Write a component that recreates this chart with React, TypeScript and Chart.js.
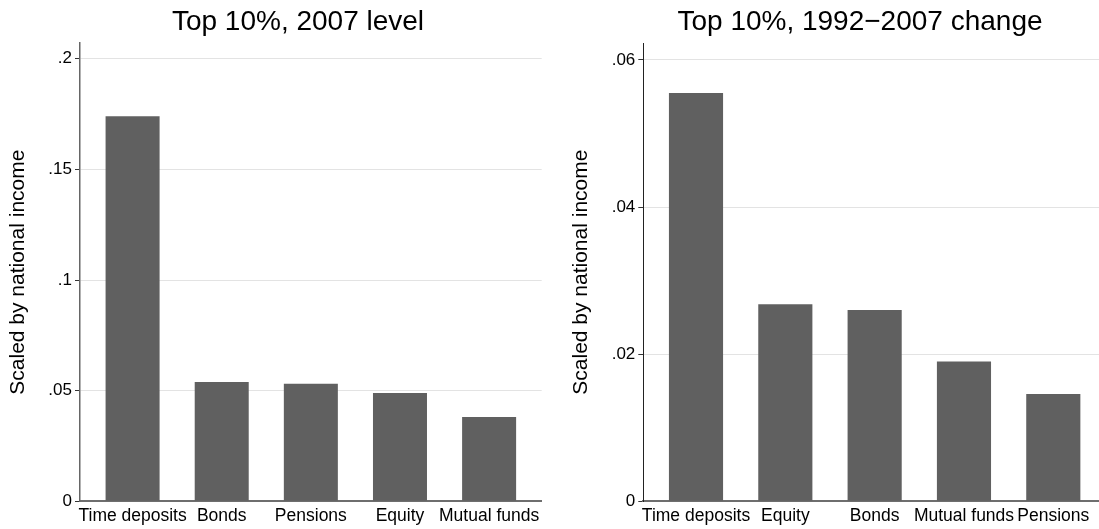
import React, { useEffect, useRef } from "react";
import { Chart, registerables } from "chart.js";

Chart.register(...registerables);

// ---------- data ----------
const leftTitle = "Top 10%, 2007 level";
const leftCategories = ["Time deposits", "Bonds", "Pensions", "Equity", "Mutual funds"];
const leftValues = [0.174, 0.0539, 0.0531, 0.0489, 0.0381];
const leftTickValues = [0, 0.05, 0.1, 0.15, 0.2];
const leftTickLabels = ["0", ".05", ".1", ".15", ".2"];

const rightTitle = "Top 10%, 1992\u22122007 change";
const rightCategories = ["Time deposits", "Equity", "Bonds", "Mutual funds", "Pensions"];
const rightValues = [0.0555, 0.0268, 0.026, 0.019, 0.0146];
const rightTickValues = [0, 0.02, 0.04, 0.06];
const rightTickLabels = ["0", ".02", ".04", ".06"];

const yAxisTitle = "Scaled by national income";

// ---------- style ----------
const FONT = "'Liberation Sans', Arial, Helvetica, sans-serif";
const BAR_COLOR = "#606060";
const GRID_COLOR = "#e3e3e3";

// Draws the panel title centred on a given x (Stata centres it on the whole graph region)
const panelTitlePlugin = {
  id: "panelTitle",
  afterDraw(chart: any, _args: any, opts: any) {
    const ctx = chart.ctx;
    ctx.save();
    ctx.font = `normal ${opts.size}px ${FONT}`;
    ctx.fillStyle = "#000";
    ctx.textAlign = "center";
    ctx.textBaseline = "middle";
    ctx.fillText(opts.text, opts.x, opts.y);
    ctx.restore();
  },
};

type PanelProps = {
  title: string;
  titleX: number;
  categories: string[];
  values: number[];
  tickValues: number[];
  tickLabels: string[];
  yMax: number;
  left: number;
  width: number;
  yAxisWidth: number;
  yTitleOffset: number;
  padRight: number;
  yBorderColor: string;
  yBorderWidth: number;
};

function Panel(p: PanelProps) {
  const ref = useRef<HTMLCanvasElement | null>(null);
  useEffect(() => {
    if (!ref.current) return;
    const chart = new Chart(ref.current, {
      type: "bar",
      data: {
        datasets: [
          {
            data: p.values.map((v, i) => ({ x: i, y: v })),
            backgroundColor: BAR_COLOR,
            borderWidth: 0,
            categoryPercentage: 1,
            barPercentage: 0.606,
          },
        ],
      },
      plugins: [panelTitlePlugin],
      options: {
        animation: false,
        responsive: false,
        devicePixelRatio: 1,
        layout: { padding: { left: 0, right: p.padRight, top: 43, bottom: 0 } },
        plugins: {
          legend: { display: false },
          tooltip: { enabled: false },
          title: { display: false },
          panelTitle: { text: p.title, x: p.titleX, y: 22, size: 28 },
        },
        scales: {
          x: {
            type: "linear",
            offset: false,
            grace: 0,
            min: -0.59,
            max: p.categories.length - 1 + 0.59,
            afterBuildTicks: (s: any) => {
              s.ticks = p.categories.map((_, i) => ({ value: i }));
            },
            afterFit: (s: any) => {
              s.height = 27.7;
            },
            ticks: {
              autoSkip: false,
              maxRotation: 0,
              minRotation: 0,
              padding: 4,
              color: "#000",
              font: { family: FONT, size: 17.5 },
              callback: (_v: any, i: number) => p.categories[i],
            },
            grid: { display: false, drawTicks: false, offset: false },
            border: { display: true, color: "#6e6e6e", width: 2 },
          },
          y: {
            min: 0,
            max: p.yMax,
            afterBuildTicks: (s: any) => {
              s.ticks = p.tickValues.map((v) => ({ value: v }));
            },
            afterFit: (s: any) => {
              s.width = p.yAxisWidth;
            },
            ticks: {
              padding: 3,
              color: "#000",
              font: { family: FONT, size: 17 },
              callback: (_v: any, i: number) => p.tickLabels[i],
            },
            grid: {
              color: GRID_COLOR,
              lineWidth: 1,
              drawTicks: true,
              tickLength: 5,
              tickColor: "#333",
            },
            border: { display: true, color: p.yBorderColor, width: p.yBorderWidth },
            title: {
              display: true,
              text: yAxisTitle,
              color: "#000",
              font: { family: FONT, size: 21 },
              padding: { top: p.yTitleOffset, bottom: 0 },
            },
          },
        },
      } as any,
    });
    return () => chart.destroy();
  }, []);
  return (
    <canvas
      ref={ref}
      width={p.width}
      height={529}
      style={{ position: "absolute", left: p.left, top: 0, width: p.width, height: 529 }}
    />
  );
}

export default function App() {
  return (
    <div
      style={{
        position: "fixed",
        left: 0,
        top: 0,
        width: 1099,
        height: 529,
        overflow: "hidden",
        background: "#fff",
      }}
    >
      <Panel
        title={leftTitle}
        titleX={298}
        categories={leftCategories}
        values={leftValues}
        tickValues={leftTickValues}
        tickLabels={leftTickLabels}
        yMax={0.2071}
        left={0}
        width={560}
        yAxisWidth={80}
        yTitleOffset={5.5}
        padRight={18.3}
        yBorderColor="#666"
        yBorderWidth={1.5}
      />
      <Panel
        title={rightTitle}
        titleX={310}
        categories={rightCategories}
        values={rightValues}
        tickValues={rightTickValues}
        tickLabels={rightTickLabels}
        yMax={0.0623}
        left={550}
        width={570}
        yAxisWidth={93.3}
        yTitleOffset={18.5}
        padRight={14}
        yBorderColor="#222"
        yBorderWidth={1}
      />
    </div>
  );
}
